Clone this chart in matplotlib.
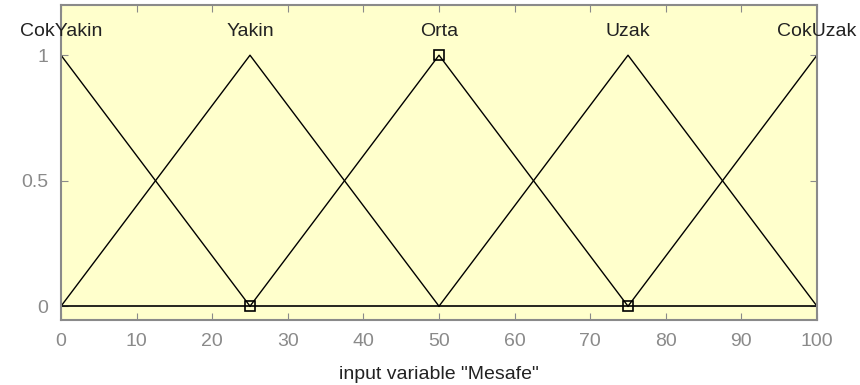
import matplotlib
matplotlib.use('Agg')
import matplotlib.pyplot as plt

# membership functions of input variable "Mesafe" (triangular, [a b c])
mf_names = ['CokYakin', 'Yakin', 'Orta', 'Uzak', 'CokUzak']
mf_params = [[-25, 0, 25], [0, 25, 50], [25, 50, 75], [50, 75, 100], [75, 100, 125]]
x_range = [0, 100]
x_ticks = [0, 10, 20, 30, 40, 50, 60, 70, 80, 90, 100]
y_ticks = [0, 0.5, 1]
# highlighted points (square markers)
mark_x = [25, 50, 75]
mark_y = [0, 1, 0]

plt.rcParams['font.family'] = ['Liberation Sans', 'DejaVu Sans']
grey = '#8a8a8a'
fs = 14
fig = plt.figure(figsize=(8.6, 3.85), dpi=100)
ax = fig.add_axes([61 / 860, 65 / 385, 756 / 860, 315 / 385])
ax.set_facecolor('#ffffcc')

for name, (a, b, c) in zip(mf_names, mf_params):
    xs = [max(a, x_range[0]), b, min(c, x_range[1])]
    ys = []
    for v in xs:
        if v <= b:
            ys.append((v - a) / (b - a))
        else:
            ys.append((c - v) / (c - b))
    ax.plot(xs, ys, color='black', lw=1)
    ax.text(b, 1.095, name, ha='center', va='center', fontsize=fs, color='#222222')

ax.plot(x_range, [0, 0], color='black', lw=1.2)
ax.plot(mark_x, mark_y, 's', ms=7, mfc='none', mec='black', mew=1.2, clip_on=False)

ax.set_xlim(x_range)
ax.set_ylim(-0.055, 1.2)
ax.set_xticks(x_ticks)
ax.set_yticks(y_ticks)
ax.set_yticklabels(['0', '0.5', '1'])
ax.tick_params(direction='in', length=5, colors=grey, labelcolor=grey, labelsize=fs,
               top=True, right=True)
ax.tick_params(axis='x', pad=9)
ax.tick_params(axis='y', pad=9)
for s in ax.spines.values():
    s.set_color(grey)
    s.set_linewidth(1.5)
ax.set_xlabel('input variable "Mesafe"', fontsize=fs, color='#222222', labelpad=12)

fig.savefig('out.png', dpi=100, facecolor='white')
